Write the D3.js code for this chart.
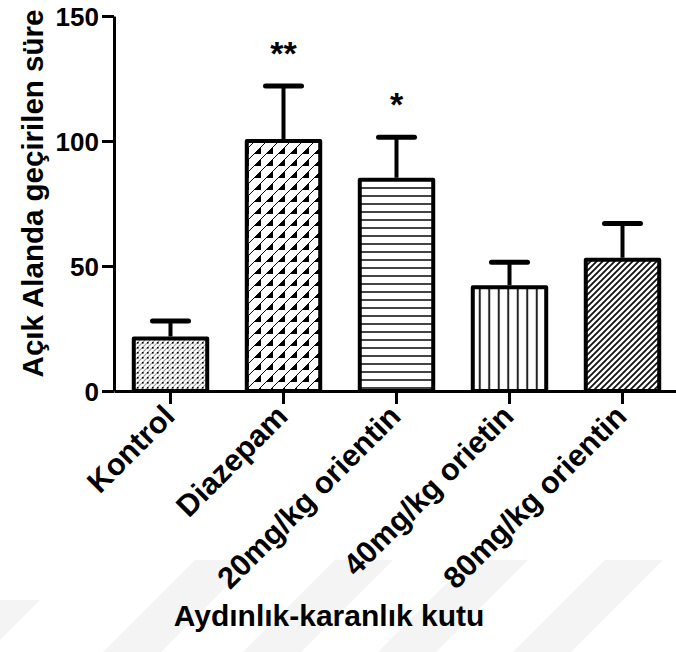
<!DOCTYPE html>
<html><head><meta charset="utf-8">
<script src="https://cdn.jsdelivr.net/npm/d3@7"></script>
<style>
html,body{margin:0;padding:0;background:#fff;}
svg{display:block;font-family:"Liberation Sans",Arial,Helvetica,sans-serif;font-weight:bold;}
</style>
</head><body>
<svg id="chart" width="676" height="652"></svg>
<script>
// ---- data ----
const categories = ["Kontrol", "Diazepam", "20mg/kg orientin", "40mg/kg orietin", "80mg/kg orientin"];
const means = [21, 100, 84.5, 41.5, 52.5];
const sems = [7, 22, 17, 10, 14.5];
const significance = ["", "**", "*", "", ""];
const yTicks = [0, 50, 100, 150];
const fills = ["dots", "triangles", "hlines", "vlines", "diag"];
const yTitle = "Açık Alanda geçirilen süre";
const xTitle = "Aydınlık-karanlık kutu";

const svg = d3.select("#chart");
const W = 676, H = 652;
const margin = {left: 114, top: 16, right: -3, bottom: 261};

const x = d3.scaleBand().domain(categories)
  .range([margin.left, W - margin.right])
  .paddingInner(0.35).paddingOuter(0.175);
const y = d3.scaleLinear().domain([0, 150]).range([H - margin.bottom, margin.top]);

// ---- faint watermark (background decoration) ----
const wm = svg.append("g").attr("fill", "#f4f4f4");
[195, 335, 470, 605].forEach(x0 => {
  const t = 560, b = H, w = 58, s = b - t;
  wm.append("path").attr("d", `M${x0},${t}L${x0 + w},${t}L${x0 + w - s},${b}L${x0 - s},${b}Z`);
});
wm.append("path").attr("d", `M0,600L40,600L-12,652L0,652Z`);

// ---- patterns ----
const defs = svg.append("defs");
function pat(id, w, h) {
  const p = defs.append("pattern").attr("id", id).attr("patternUnits", "userSpaceOnUse")
    .attr("width", w).attr("height", h);
  p.append("rect").attr("width", w).attr("height", h).attr("fill", "#fff");
  return p;
}
let p = pat("dots", 5, 5);
p.append("path").attr("d", "M0,5L5,0M-1,1L1,-1M4,6L6,4").attr("stroke", "#9a9a9a").attr("stroke-width", 1.1);
p.append("rect").attr("x", 2).attr("y", 2).attr("width", 1.6).attr("height", 1.6).attr("fill", "#000");

p = pat("triangles", 12, 12);
p.append("path").attr("d", "M0,12L12,0M-1,1L1,-1M11,13L13,11").attr("stroke", "#000").attr("stroke-width", 1);
p.append("path").attr("d", "M2,10L9,3L9,10Z").attr("fill", "#000");

p = pat("hlines", 8, 8);
p.append("path").attr("d", "M0,4L8,4").attr("stroke", "#222").attr("stroke-width", 1.7);

p = pat("vlines", 9.5, 9.5);
p.append("path").attr("d", "M4.75,0L4.75,9.5").attr("stroke", "#222").attr("stroke-width", 2);

p = pat("diag", 6, 6);
p.append("path").attr("d", "M0,6L6,0M-1,1L1,-1M5,7L7,5").attr("stroke", "#111").attr("stroke-width", 1.8);

// ---- bars ----
const data = categories.map((c, i) => ({c, m: means[i], s: sems[i], f: fills[i], sig: significance[i]}));

svg.append("g").selectAll("rect").data(data).join("rect")
  .attr("x", d => x(d.c)).attr("width", x.bandwidth())
  .attr("y", d => y(d.m)).attr("height", d => y(0) - y(d.m))
  .attr("fill", d => `url(#${d.f})`)
  .attr("stroke", "#000").attr("stroke-width", 4).attr("stroke-linejoin", "round");

// ---- error bars ----
const eb = svg.append("g").attr("stroke", "#000").attr("fill", "none");
eb.selectAll("line.v").data(data).join("line").attr("class", "v")
  .attr("x1", d => x(d.c) + x.bandwidth() / 2).attr("x2", d => x(d.c) + x.bandwidth() / 2)
  .attr("y1", d => y(d.m) - 2).attr("y2", d => y(d.m + d.s))
  .attr("stroke-width", 4);
eb.selectAll("line.c").data(data).join("line").attr("class", "c")
  .attr("x1", d => x(d.c) + x.bandwidth() / 2 - 18).attr("x2", d => x(d.c) + x.bandwidth() / 2 + 18)
  .attr("y1", d => y(d.m + d.s)).attr("y2", d => y(d.m + d.s))
  .attr("stroke-width", 5).attr("stroke-linecap", "round");

// ---- significance stars ----
svg.append("g").selectAll("text").data(data.filter(d => d.sig)).join("text")
  .attr("x", d => x(d.c) + x.bandwidth() / 2)
  .attr("y", d => y(d.m + d.s) - 21)
  .attr("text-anchor", "middle").attr("font-size", 34).text(d => d.sig);

// ---- axes ----
const yAxis = svg.append("g").attr("transform", `translate(${margin.left},0)`)
  .call(d3.axisLeft(y).tickValues(yTicks).tickSize(12).tickSizeOuter(0).tickPadding(3));
const xAxis = svg.append("g").attr("transform", `translate(0,${y(0)})`)
  .call(d3.axisBottom(x).tickSize(13).tickSizeOuter(0));

[yAxis, xAxis].forEach(a => {
  a.select(".domain").attr("stroke", "#000").attr("stroke-width", 3);
  a.selectAll(".tick line").attr("stroke", "#000").attr("stroke-width", 3);
  a.attr("font-family", null).attr("font-size", null);
});
yAxis.selectAll(".tick text").attr("font-size", 26).attr("fill", "#000").attr("dy", "0.36em");
xAxis.selectAll(".tick text").attr("font-size", 30.5).attr("fill", "#000")
  .attr("text-anchor", "end").attr("y", 0).attr("dy", 0)
  .attr("transform", "translate(6,27) rotate(-45)");

// ---- titles ----
svg.append("text").attr("transform", `translate(43,${(y(0) + y(150)) / 2 - 10}) rotate(-90)`)
  .attr("text-anchor", "middle").attr("font-size", 29.5).text(yTitle);
svg.append("text").attr("x", 329).attr("y", 626)
  .attr("text-anchor", "middle").attr("font-size", 30).text(xTitle);
</script>
</body></html>
